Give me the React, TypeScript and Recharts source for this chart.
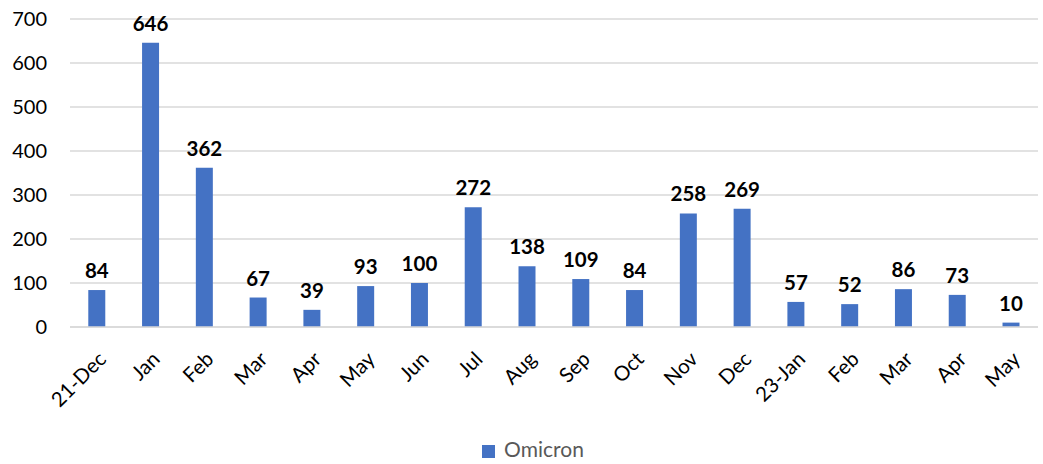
import React from 'react';
import { BarChart, Bar, XAxis, YAxis, CartesianGrid, Legend, LabelList } from 'recharts';

const categories = ['21-Dec', 'Jan', 'Feb', 'Mar', 'Apr', 'May', 'Jun', 'Jul', 'Aug', 'Sep', 'Oct', 'Nov', 'Dec', '23-Jan', 'Feb', 'Mar', 'Apr', 'May'];
const omicron = [84, 646, 362, 67, 39, 93, 100, 272, 138, 109, 84, 258, 269, 57, 52, 86, 73, 10];
const yTicks = [0, 100, 200, 300, 400, 500, 600, 700];

const data = categories.map((c, i) => ({ key: `${i}`, label: c, Omicron: omicron[i] }));

const FONT = 'Lato, "Noto Sans", sans-serif';

const XTick = (props: any) => {
  const { x, y, payload } = props;
  return (
    <g transform={`translate(${x + 2},${y + 17})`}>
      <text x={0} y={0} dy={12} textAnchor="end" transform="rotate(-45)" fill="#000" fontSize={20.5} fontFamily={FONT}>
        {categories[Number(payload.value)]}
      </text>
    </g>
  );
};

export default function App() {
  return (
    <div style={{ position: 'absolute', left: 0, top: 0, width: 1043, height: 464, background: '#fff' }}>
      <BarChart width={1043} height={464} data={data} margin={{ top: 19, right: 5, left: 0, bottom: 0 }} barCategoryGap="34%">
        <CartesianGrid vertical={false} stroke="#D9D9D9" strokeWidth={1.5} />
        <XAxis dataKey="key" axisLine={{ stroke: '#D9D9D9', strokeWidth: 1.5 }} tickLine={false} tick={<XTick />} height={107} interval={0} />
        <YAxis domain={[0, 700]} ticks={yTicks} axisLine={false} tickLine={false} tickSize={0} tickMargin={23} width={70}
          tick={{ fill: '#000', fontSize: 20, fontFamily: FONT }} />
        <Legend verticalAlign="bottom" height={30} iconType="square" iconSize={13}
          wrapperStyle={{ fontFamily: FONT, fontSize: 21, color: '#595959', bottom: -2, left: 19 }}
          formatter={(v: any) => <span style={{ color: '#595959', marginLeft: 5 }}>{v}</span>} />
        <Bar dataKey="Omicron" fill="#4472C4" isAnimationActive={false}>
          <LabelList dataKey="Omicron" position="top" offset={12} fill="#000" fontSize={20.5} fontWeight="bold" fontFamily={FONT} />
        </Bar>
      </BarChart>
    </div>
  );
}
